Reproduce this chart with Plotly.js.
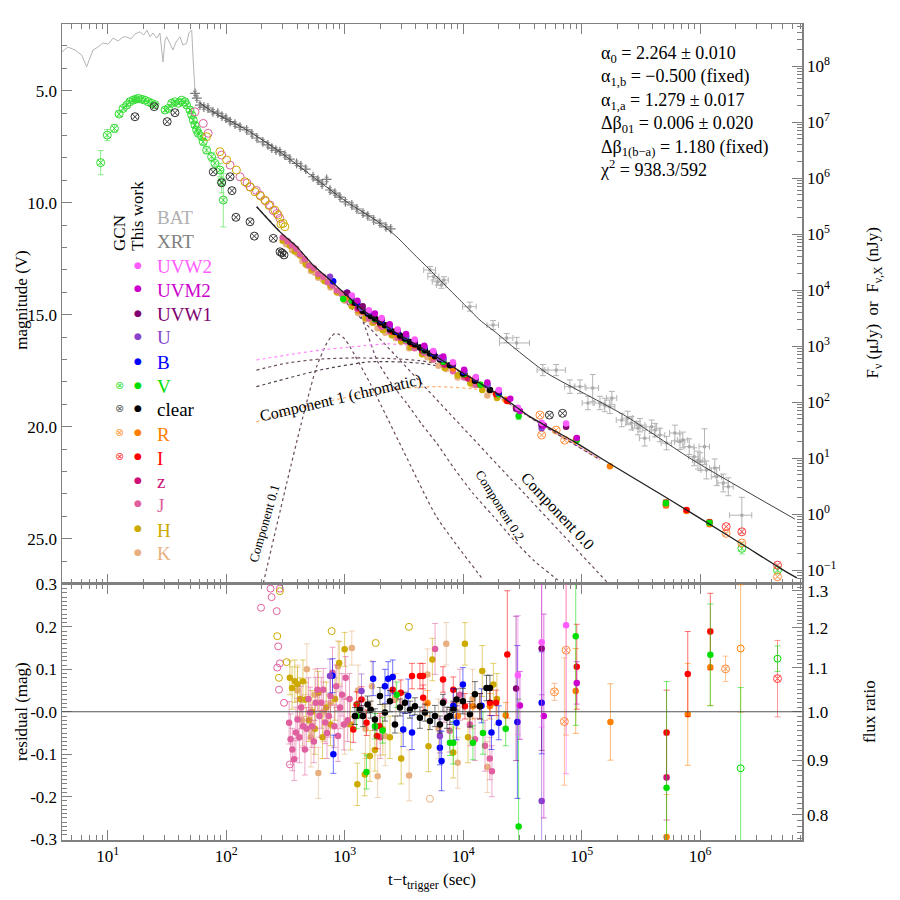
<!DOCTYPE html>
<html>
<head>
<meta charset="utf-8">
<script src="https://cdn.plot.ly/plotly-3.0.1.min.js"></script>
<style>body{margin:0;background:#fff}#chart{width:900px;height:900px}</style>
</head>
<body>
<div id="chart"></div>
<script>
// ---- BAT light curve (drawn on magnitude scale)
const batT = [4.1, 4.62, 5.3, 6.04, 6.65, 7.09, 7.52, 8.28, 9.12, 10.1, 11.1, 12.2, 13.5, 14.4, 15.7, 17.0, 18.7, 20.2, 21.4, 22.8, 24.1, 26.0, 27.6, 29.3, 30.5, 31.5, 34.1, 35.6, 37.7, 40.7, 43.2, 46.4, 48.5, 51.2, 52.7, 54.5];
const batM = [3.27, 3.05, 3.18, 3.41, 3.93, 3.54, 3.18, 3.05, 2.87, 2.92, 2.65, 2.78, 2.60, 2.59, 2.69, 2.47, 2.37, 2.51, 2.29, 2.59, 2.42, 2.65, 2.42, 3.71, 2.74, 2.59, 2.96, 3.18, 2.83, 2.59, 2.96, 2.88, 2.42, 2.29, 3.63, 4.97];

// ---- XRT
const xrtEarlyT = [54.6, 56.6, 60.1, 64.9, 70.2, 77.4, 85.0, 92.2, 99.6, 108, 118.8, 131, 149, 165, 182, 204, 225, 243, 263, 284, 313, 345, 393, 427, 470, 541, 596, 645, 705, 752, 828, 913, 1016, 1150, 1270, 1429, 1570, 1760, 1986, 2228, 2450];
const xrtEarlyM = [5.12, 5.33, 5.64, 5.73, 5.77, 5.94, 6.00, 6.13, 6.22, 6.38, 6.49, 6.62, 6.75, 6.93, 7.11, 7.28, 7.42, 7.56, 7.65, 7.72, 7.87, 8.05, 8.24, 8.36, 8.50, 8.84, 8.99, 9.17, 8.96, 9.43, 9.57, 9.75, 9.96, 10.10, 10.28, 10.46, 10.59, 10.77, 10.91, 11.08, 11.17];
const xrtLateT = [5247, 5635, 6090, 6555, 6890, 11400, 17900, 23300, 28300, 47100, 61000, 79700, 96800, 113000, 124000, 142800, 157000, 173000, 180000, 218000, 245000, 263000, 299000, 311000, 341000, 390000, 417000, 458000, 521000, 613000, 676000, 715000, 810000, 891000, 960000, 1.0e6, 1.09e6, 1.13e6, 1.33e6, 1.38e6, 1.57e6, 1.73e6, 2.25e6];
const xrtLateM = [13.0, 13.30, 13.53, 13.67, 13.45, 14.64, 15.46, 16.04, 16.26, 17.47, 17.47, 18.21, 18.21, 18.94, 18.27, 18.94, 19.03, 19.11, 18.72, 19.70, 19.61, 19.84, 20.06, 19.93, 20.51, 20.0, 20.15, 20.37, 20.73, 20.28, 20.67, 20.59, 20.89, 21.34, 21.49, 21.56, 20.89, 21.93, 21.84, 22.23, 22.51, 22.68, 23.95];
const xrtLateE = [0.15, 0.15, 0.15, 0.15, 0.15, 0.2, 0.2, 0.2, 0.25, 0.25, 0.25, 0.3, 0.3, 0.3, 0.6, 0.3, 0.3, 0.3, 0.3, 0.3, 0.3, 0.3, 0.3, 0.3, 0.35, 0.3, 0.3, 0.3, 0.3, 0.35, 0.35, 0.35, 0.35, 0.4, 0.4, 0.4, 0.8, 0.4, 0.4, 0.4, 0.4, 0.4, 0.8];
const xrtLateXE = [600, 600, 600, 600, 600, 1500, 2000, 3000, 8000, 5000, 12000, 8000, 10000, 12000, 15000, 15000, 16000, 18000, 18000, 22000, 25000, 27000, 30000, 31000, 34000, 40000, 42000, 46000, 52000, 60000, 68000, 72000, 80000, 90000, 96000, 100000, 110000, 113000, 130000, 138000, 157000, 173000, 480000];

// ---- model curves
const xrtModelT = [60, 77.4, 149, 283, 541, 1040, 1986, 2750, 3770, 5250, 7260, 9960, 13870, 19190, 26300, 50700, 134000, 240000, 871000, 6.3e6];
const xrtModelM = [5.55, 5.94, 6.75, 7.72, 8.84, 9.96, 10.91, 11.52, 12.25, 13.0, 13.75, 14.48, 15.24, 15.82, 16.43, 17.60, 18.81, 19.55, 21.49, 24.12];
const optModelT = [181, 283, 394, 541, 752, 1006, 1426, 2000, 2750, 4000, 5250, 7000, 9960, 14000, 19190, 27000, 36650, 54020, 90800, 172000, 521000, 1.2e6, 2.28e6, 4.72e6, 6.56e6];
const optModelM = [10.18, 11.29, 11.96, 12.78, 13.45, 14.06, 14.79, 15.32, 15.82, 16.33, 16.71, 17.11, 17.60, 18.07, 18.50, 19.05, 19.55, 20.06, 20.73, 21.64, 23.17, 24.35, 25.26, 26.31, 26.75];

const comp00T = [181, 166700];
const comp00M = [10.18, 26.98];
const comp01T = [206, 324, 445, 580, 705, 770, 828, 900, 1000, 1109, 1636, 3108, 5970, 14790];
const comp01M = [26.98, 22.53, 19.55, 17.32, 16.28, 15.98, 15.83, 15.88, 16.08, 16.43, 18.05, 21.04, 24.02, 26.84];
const comp02T = [600, 850, 1183, 1500, 1870, 2500, 3325, 4500, 5970, 8500, 12100, 18000, 26800, 40000, 62800, 67000];
const comp02M = [13.30, 13.85, 14.34, 15.6, 17.02, 18.1, 18.94, 19.9, 20.73, 21.9, 22.97, 24.0, 25.06, 26.0, 26.84, 26.98];
const c1PinkT = [180, 324, 619, 1183, 2250, 3600, 5250, 9960, 36650, 142800];
const c1PinkM = [17.02, 16.80, 16.58, 16.43, 16.30, 16.40, 16.78, 17.65, 19.57, 21.45];
const c1PurpT = [180, 324, 619, 1183, 2250, 4300, 8000, 14000, 36650, 142800];
const c1PurpM = [17.47, 17.16, 16.98, 16.93, 16.95, 17.05, 17.35, 18.10, 19.58, 21.47];
const c1DarkT = [180, 619, 1636, 4320, 9000, 14000, 36650, 142800];
const c1DarkM = [18.21, 17.47, 17.10, 17.16, 17.50, 18.10, 19.58, 21.47];
const c1OrT = [180, 619, 2250, 5970, 15500, 30150, 65600, 142800];
const c1OrM = [19.78, 18.95, 18.36, 18.21, 18.40, 19.32, 20.33, 21.47];

// ---- GCN photometry
const gcnVT = [8.73, 9.93, 11.4, 12.5, 13.5, 14.5, 15.4, 16.4, 17.2, 18.1, 19.4, 20.6, 22.0, 23.5, 25.0, 30.5, 32.5, 34.7, 37.0, 39.4, 42.1, 44.9, 46.4, 49.5, 51.2, 52.8, 54.5, 56.4, 58.2, 62.1, 64.1, 68.4, 75.4, 80.4, 88.6, 91.6, 94.6, 2.25e6, 4.5e6];
const gcnVM = [8.21, 6.98, 6.68, 6.04, 5.79, 5.64, 5.49, 5.42, 5.38, 5.34, 5.38, 5.42, 5.49, 5.56, 5.62, 5.86, 5.79, 5.56, 5.49, 5.56, 5.42, 5.49, 5.64, 5.86, 6.08, 6.31, 6.53, 6.75, 6.90, 7.05, 7.28, 7.65, 7.95, 8.24, 8.54, 9.06, 9.88, 25.43, 26.40];
const gcnVE = [0.54, 0.25, 0.18, 0.1, 0.08, 0.06, 0.06, 0.06, 0.06, 0.06, 0.06, 0.06, 0.06, 0.06, 0.06, 0.08, 0.06, 0.06, 0.06, 0.06, 0.06, 0.06, 0.06, 0.08, 0.08, 0.1, 0.1, 0.1, 0.12, 0.12, 0.12, 0.15, 0.2, 0.25, 0.3, 0.5, 1.2, 0.25, 0.15];
const gcnClearT = [17.0, 24.7, 31.8, 37.0, 77.8, 91.6, 108, 112, 121, 159, 173, 250, 285, 296, 308, 53500, 69000];
const gcnClearM = [6.16, 5.71, 6.38, 5.98, 8.62, 9.11, 8.84, 9.46, 10.65, 10.85, 11.49, 11.59, 12.19, 12.24, 12.33, 19.48, 19.40];
const gcnRT = [44500, 46000, 61000, 72000, 1.66e6, 2.25e6, 4.5e6];
const gcnRM = [19.48, 20.37, 20.15, 20.60, 24.76, 25.19, 26.70];
const gcnIT = [1.66e6, 2.25e6, 4.5e6];
const gcnIM = [24.46, 24.69, 26.18];

// ---- This work: early open circles (J, H)
const jOpenT = [54.6, 64.1, 70.5, 91.6, 108, 131, 150, 159, 180, 193, 215, 234, 250, 268, 284];
const jOpenM = [5.94, 6.46, 6.90, 7.87, 8.32, 8.84, 9.12, 9.29, 9.45, 9.66, 9.92, 10.10, 10.35, 10.48, 10.70];
const hOpenT = [68.4, 88.6, 101, 122, 144, 160, 175, 195, 212, 230, 258, 275, 290, 303, 313];
const hOpenM = [7.05, 7.72, 8.09, 8.54, 9.06, 9.30, 9.51, 9.70, 9.88, 10.12, 10.33, 10.55, 10.95, 10.92, 11.07];

// ---- This work: filled points (top panel)
const jT = [300, 330, 360, 390, 420, 460, 500, 550, 600, 660, 720, 790, 860, 950, 1050, 1150, 1280, 1420, 1600, 1800, 2050, 2400, 2800, 3300, 3900, 4700, 5600, 6800, 8200, 10200, 12800];
const jM = [11.55, 11.72, 11.90, 12.05, 12.30, 12.52, 12.80, 12.93, 13.18, 13.30, 13.55, 13.70, 13.92, 14.05, 14.33, 14.45, 14.74, 14.90, 15.17, 15.28, 15.55, 15.75, 16.02, 16.20, 16.50, 16.70, 17.00, 17.20, 17.52, 17.80, 18.12];
const hT = [300, 345, 380, 420, 470, 530, 600, 680, 760, 860, 1000, 1150, 1300, 1500, 1750, 2100, 2500, 3000, 3600, 4500, 5500, 7000, 9000, 11500, 14500, 19300];
const hM = [11.70, 11.92, 12.18, 12.35, 12.75, 12.98, 13.27, 13.50, 13.70, 14.00, 14.28, 14.62, 14.82, 15.14, 15.36, 15.68, 15.92, 16.20, 16.45, 16.76, 17.00, 17.38, 17.70, 18.06, 18.36, 18.72];
const kT = [320, 360, 400, 440, 480, 520, 560, 600, 660, 760, 880, 1000, 1150, 1300, 1500, 1700, 1900, 2200, 2700, 3500, 5000, 6200, 7200, 9000, 12000, 16000];
const kM = [11.85, 12.12, 12.28, 12.60, 12.80, 13.05, 13.12, 13.35, 13.45, 13.78, 14.02, 14.38, 14.60, 14.92, 15.20, 15.35, 15.60, 15.80, 16.05, 16.50, 16.90, 17.28, 17.42, 17.80, 18.12, 18.60];
const uvw2T = [1150, 1600, 2050, 2800, 3900, 5600, 8200, 12800, 20000, 29000, 46000, 74000];
const uvw2M = [14.14, 14.80, 15.15, 15.66, 16.10, 16.62, 17.12, 17.78, 18.36, 19.15, 19.82, 19.85];
const uvm2T = [1280, 1800, 2400, 3300, 4700, 6800, 10200, 16000, 25000, 30150, 48000, 91000];
const uvm2M = [14.38, 14.95, 15.42, 15.86, 16.38, 16.86, 17.46, 18.02, 18.75, 19.30, 19.95, 20.50];
const uvw1T = [1050, 1420, 2050, 2800, 3900, 5600, 8200, 12800, 20000, 28000, 46000, 74000];
const uvw1M = [14.02, 14.62, 15.20, 15.70, 16.18, 16.66, 17.18, 17.82, 18.40, 19.20, 19.92, 20.00];
const uT = [752, 1150, 1388, 1600, 2400, 3300, 4700, 6372, 6800, 10200, 16000, 46000];
const uM = [13.30, 14.20, 14.70, 14.86, 15.50, 15.96, 16.44, 16.92, 16.98, 17.50, 18.12, 20.07];
const bT = [800, 1050, 1280, 1600, 2050, 2400, 2800, 3300, 3900, 4700, 5600, 6800, 8200, 10200, 12800, 16000, 20000, 28700, 46000];
const bM = [13.50, 14.02, 14.45, 14.88, 15.26, 15.52, 15.76, 15.98, 16.20, 16.45, 16.72, 16.98, 17.22, 17.56, 17.85, 18.14, 18.48, 19.18, 19.90];
const vT = [974, 1150, 1420, 1800, 2400, 3300, 4700, 6800, 10200, 14000, 20000, 29400, 91000, 515000, 1.2e6];
const vM = [14.30, 14.38, 14.80, 15.20, 15.60, 16.10, 16.60, 17.10, 17.66, 18.12, 18.55, 19.52, 20.59, 23.41, 24.29];
const vE = [0.02, 0.02, 0.02, 0.02, 0.02, 0.02, 0.02, 0.02, 0.02, 0.02, 0.02, 0.15, 0.08, 0.12, 0.08];
const clearT = [1222, 1346, 1429, 1562, 1660, 1803, 1986, 2189, 2412, 2658, 2929, 3228, 3557, 3920, 4320, 4761, 5247, 5782, 6372, 7739, 9960, 12580, 16830];
const clearM = [14.47, 14.66, 14.83, 14.95, 15.06, 15.17, 15.35, 15.47, 15.66, 15.77, 15.93, 16.06, 16.22, 16.33, 16.46, 16.58, 16.73, 16.85, 17.00, 17.26, 17.62, 17.95, 18.36];
const rT = [1050, 1420, 2050, 2800, 3900, 5600, 8200, 12100, 16830, 22880, 89200, 173400, 515000, 768000, 1.2e6];
const rM = [14.22, 14.85, 15.40, 15.90, 16.36, 16.86, 17.40, 17.92, 18.36, 18.80, 20.62, 21.76, 23.48, 23.76, 24.35];
const rE = [0.02, 0.02, 0.02, 0.02, 0.02, 0.02, 0.02, 0.02, 0.02, 0.02, 0.06, 0.06, 0.15, 0.08, 0.08];
const iT = [1183, 1388, 1870, 2545, 3705, 4580, 6760, 10360, 13860, 19000, 23600, 91000, 515000, 768000, 1.2e6];
const iM = [14.45, 14.80, 15.25, 15.75, 16.30, 16.54, 17.10, 17.70, 18.12, 18.55, 18.85, 20.52, 23.38, 23.72, 24.25];
const iE = [0.02, 0.02, 0.02, 0.02, 0.02, 0.02, 0.02, 0.02, 0.02, 0.02, 0.1, 0.08, 0.1, 0.08, 0.08];
const zT = [1300, 2000, 3000, 4500, 7000, 11000, 515000];
const zM = [14.70, 15.42, 16.02, 16.60, 17.22, 17.85, 23.50];

// ---- residuals (bottom panel)
const resJT = [340, 350, 362, 375, 388, 400, 415, 430, 445, 462, 478, 495, 512, 530, 550, 570, 590, 612, 635, 660, 685, 710, 735, 760, 790, 820, 850, 880, 915, 950, 985, 1020, 1060, 1100, 2000, 5800, 6900, 7700, 9400, 11400, 12600, 15300, 16800, 17500];
const resJR = [-0.026, -0.065, -0.089, -0.112, -0.049, -0.018, -0.060, 0.010, -0.034, -0.089, -0.040, 0.030, -0.002, -0.034, -0.070, 0.021, 0.052, -0.010, 0.021, 0.052, -0.025, -0.050, -0.010, 0.037, 0.092, -0.034, 0.060, -0.057, 0.010, 0.040, -0.030, 0.080, -0.020, 0.030, -0.060, 0.148, 0.025, -0.045, 0.040, -0.030, -0.065, -0.080, -0.110, -0.140];
const resJE = [0.05, 0.06, 0.05, 0.05, 0.06, 0.05, 0.06, 0.05, 0.05, 0.06, 0.05, 0.05, 0.06, 0.05, 0.05, 0.06, 0.05, 0.05, 0.06, 0.05, 0.05, 0.06, 0.05, 0.05, 0.06, 0.05, 0.05, 0.06, 0.05, 0.05, 0.06, 0.05, 0.05, 0.06, 0.05, 0.06, 0.05, 0.05, 0.06, 0.05, 0.05, 0.06, 0.05, 0.06];
const resHT = [345, 360, 380, 400, 420, 445, 470, 500, 530, 560, 600, 650, 700, 760, 830, 900, 1000, 1120, 1280, 1480, 1636, 1800, 2100, 2412, 3000, 5500, 5100, 8260, 10360, 11000, 14500, 18000, 19300];
const resHR = [0.08, 0.056, 0.072, 0.065, 0.03, 0.072, 0.029, -0.02, 0.0, -0.04, 0.045, -0.06, 0.01, -0.03, 0.03, 0.115, 0.147, -0.03, -0.171, -0.148, -0.104, -0.09, -0.042, -0.06, -0.11, 0.123, -0.081, -0.096, 0.16, -0.06, 0.096, 0.064, 0.03];
const resHE = [0.04, 0.05, 0.05, 0.04, 0.05, 0.05, 0.04, 0.05, 0.05, 0.06, 0.05, 0.05, 0.06, 0.05, 0.05, 0.05, 0.04, 0.06, 0.05, 0.05, 0.06, 0.05, 0.06, 0.05, 0.06, 0.05, 0.06, 0.06, 0.05, 0.06, 0.06, 0.05, 0.06];
const resKT = [400, 440, 480, 520, 560, 600, 660, 760, 880, 1000, 1150, 1300, 1500, 1700, 1900, 2200, 2700, 3500, 5000, 6200, 7200, 9000, 12000, 16000];
const resKR = [0.05, -0.02, 0.1, -0.06, 0.04, -0.144, 0.0, 0.02, 0.107, -0.03, 0.15, 0.05, -0.04, 0.06, -0.152, -0.057, 0.03, -0.15, 0.088, -0.04, 0.16, -0.12, 0.03, -0.13];
const resKE = [0.06, 0.06, 0.06, 0.07, 0.06, 0.06, 0.07, 0.06, 0.06, 0.07, 0.04, 0.06, 0.07, 0.06, 0.05, 0.07, 0.06, 0.06, 0.06, 0.07, 0.05, 0.06, 0.07, 0.06];
const resJOpenT = [197, 237, 242, 267, 284, 275, 284, 270, 279, 308, 345];
const resJOpenR = [0.245, 0.29, 0.27, 0.237, 0.29, 0.154, 0.114, 0.104, 0.052, 0.021, -0.124];
const resHOpenT = [284, 270, 279, 324, 777, 1828, 3490];
const resHOpenR = [0.284, 0.178, 0.08, 0.117, 0.19, 0.162, 0.2];
const resKOpenT = [5247];
const resKOpenR = [-0.205];
const resClearT = [1222, 1346, 1429, 1562, 1660, 1803, 1986, 2189, 2412, 2658, 2929, 3228, 3557, 3920, 4320, 4761, 5247, 5782, 6372, 6757, 7300, 7739, 8260, 8805, 9960, 11410, 12580, 13860, 15750, 16830];
const resClearR = [-0.01, 0.005, -0.01, 0.017, 0.005, -0.018, 0.037, -0.002, 0.025, -0.03, 0.01, 0.021, 0.005, 0.013, -0.014, -0.002, -0.022, -0.01, -0.03, 0.021, -0.014, -0.01, 0.005, 0.029, 0.025, -0.006, 0.041, 0.013, 0.056, 0.056];
const resClearE = [0.02, 0.02, 0.025, 0.02, 0.02, 0.025, 0.02, 0.02, 0.025, 0.02, 0.02, 0.025, 0.02, 0.02, 0.025, 0.02, 0.02, 0.025, 0.02, 0.02, 0.025, 0.02, 0.02, 0.025, 0.03, 0.03, 0.03, 0.03, 0.03, 0.03];
const resIT = [1183, 1262, 1388, 1530, 1870, 1986, 2545, 2980, 3705, 4320, 4580, 4600, 6760, 8260, 10360, 13860, 16830, 19000, 23600, 91000, 521000, 787000, 1.22e6];
const resIR = [-0.042, 0.017, 0.029, -0.026, -0.057, -0.034, 0.052, 0.045, 0.084, 0.084, 0.084, 0.033, 0.076, 0.052, 0.013, 0.013, 0.021, 0.021, 0.135, 0.106, -0.049, 0.089, 0.189];
const resIE = [0.03, 0.03, 0.03, 0.03, 0.03, 0.03, 0.03, 0.03, 0.03, 0.03, 0.03, 0.03, 0.03, 0.03, 0.03, 0.03, 0.03, 0.03, 0.15, 0.1, 0.1, 0.1, 0.09];
const resBT = [790, 803, 1740, 2189, 2330, 2545, 3120, 3440, 3705, 6372, 6580, 8260, 8805, 9960, 14300, 17350, 20000, 28700, 46000];
const resBR = [0.085, -0.1, 0.078, 0.06, 0.078, 0.082, -0.042, 0.037, -0.049, -0.085, -0.116, 0.014, -0.026, 0.064, 0.014, -0.049, -0.026, -0.024, 0.021];
const resBE = [0.04, 0.045, 0.04, 0.04, 0.04, 0.04, 0.04, 0.04, 0.04, 0.04, 0.07, 0.04, 0.04, 0.04, 0.04, 0.04, 0.04, 0.18, 0.12];
const resVT = [1262, 1530, 1803, 2090, 2750, 7739, 8260, 12100, 14700, 22880, 29400, 89200, 521000, 1.22e6];
const resVR = [-0.01, -0.142, -0.034, -0.044, 0.04, -0.073, -0.073, -0.073, -0.05, -0.04, -0.27, 0.178, -0.179, 0.134];
const resVE = [0.03, 0.04, 0.03, 0.03, 0.03, 0.03, 0.05, 0.04, 0.05, 0.04, 0.3, 0.21, 0.25, 0.12];
const resVOpenT = [2.2e6, 4.5e6];
const resVOpenR = [-0.133, 0.125];
const resVOpenE = [0.19, 0.03];
const resRT = [5000, 9000, 12100, 16830, 22880, 89200, 175000, 521000, 787000, 1.22e6];
const resRR = [0.02, -0.01, 0.013, 0.013, -0.008, 0.049, -0.024, -0.295, -0.006, 0.105];
const resRE = [0.03, 0.03, 0.03, 0.03, 0.03, 0.1, 0.09, 0.1, 0.12, 0.09];
const resROpenT = [2.2e6];
const resROpenR = [0.149];
const resROpenE = [0.15];
const resGcnRT = [59000, 71500, 74000, 1.64e6];
const resGcnRR = [0.047, -0.023, 0.145, 0.101];
const resGcnRE = [0.02, 0.15, 0.2, 0.03];
const resGcnIT = [4.5e6];
const resGcnIR = [0.078];
const resGcnIE = [0.09];
const resUvw2T = [29000, 46000, 74000];
const resUvw2R = [0.086, 0.164, 0.204];
const resUvw2E = [0.14, 0.2, 0.35];
const resUvm2T = [30150, 48000, 91000];
const resUvm2R = [0.015, -0.01, 0.068];
const resUvm2E = [0.08, 0.24, 0.05];
const resUvw1T = [28000, 46000];
const resUvw1R = [0.055, 0.149];
const resUvw1E = [0.17, 0.24];
const resUT = [752, 1388, 6372, 46000];
const resUR = [0.084, 0.049, -0.057, -0.21];
const resUE = [0.04, 0.04, 0.04, 0.25];
const resZT = [521000];
const resZR = [-0.155];
const resZE = [0.1];

// legend entries
const bands = ['UVW2', 'UVM2', 'UVW1', 'U', 'B', 'V', 'clear', 'R', 'I', 'z', 'J', 'H', 'K'];
const bandColors = ['#ff5cff', '#cc00cc', '#800070', '#8844cc', '#0000ff', '#00dd00', '#000000', '#ff8000', '#ff0000', '#cc1177', '#e0609f', '#ccaa00', '#e8b080'];
const gcnBands = ['V', 'clear', 'R', 'I'];
const col = {};
bands.forEach((b, i) => { col[b] = bandColors[i]; });

const FONT = 'Liberation Serif';
const AX = '#808080';

function fade(hex, a) {
    const n = parseInt(hex.slice(1), 16);
    return 'rgba(' + (n >> 16) + ',' + ((n >> 8) & 255) + ',' + (n & 255) + ',' + a + ')';
}

function pts(t, y, color, opts) {
    opts = opts || {};
    const bottom = opts.bottom;
    const tr = {
        type: 'scatter', mode: 'markers', x: t, y: y,
        xaxis: bottom ? 'x2' : 'x', yaxis: bottom ? 'y3' : 'y',
        marker: {
            color: opts.open ? 'rgba(0,0,0,0)' : color,
            size: opts.size || 6.5,
            symbol: opts.symbol || 'circle',
            line: {color: color, width: opts.open ? 1 : 0}
        },
        hoverinfo: 'skip'
    };
    if (opts.symbol) tr.marker.color = color;
    if (opts.err) {
        tr.error_y = {type: 'data', array: opts.err, color: fade(color, 0.55), thickness: 1, width: 3};
    }
    return tr;
}

function curve(t, m, color, dash, width) {
    return {type: 'scatter', mode: 'lines', x: t, y: m, xaxis: 'x', yaxis: 'y',
        line: {color: color, dash: dash || 'solid', width: width || 1, shape: 'spline', smoothing: 0.6},
        hoverinfo: 'skip'};
}

const gcnSym = 'circle-x-open';
const traces = [
    // BAT
    {type: 'scatter', mode: 'lines', x: batT, y: batM, xaxis: 'x', yaxis: 'y', line: {color: '#b4b4b4', width: 1}, hoverinfo: 'skip'},
    // XRT
    {type: 'scatter', mode: 'markers', x: xrtEarlyT, y: xrtEarlyM, xaxis: 'x', yaxis: 'y',
        marker: {symbol: 'cross-thin-open', size: 7, color: '#7a7a7a', line: {color: '#7a7a7a', width: 1.2}},
        error_y: {type: 'constant', value: 0.1, color: '#8a8a8a', thickness: 1, width: 2},
        hoverinfo: 'skip'},
    {type: 'scatter', mode: 'markers', x: xrtLateT, y: xrtLateM, xaxis: 'x', yaxis: 'y',
        marker: {symbol: 'square', size: 3, color: '#a8a8a8'},
        error_y: {type: 'data', array: xrtLateE, color: '#b4b4b4', thickness: 1, width: 3},
        error_x: {type: 'data', array: xrtLateXE, color: '#b4b4b4', thickness: 1, width: 3},
        hoverinfo: 'skip'},
    curve(xrtModelT, xrtModelM, '#404040', 'solid', 1),
    // components
    curve(comp00T, comp00M, '#6a4a5e', 'dot', 1.2),
    curve(comp01T, comp01M, '#6a4a5e', 'dot', 1.2),
    curve(comp02T, comp02M, '#6a4a5e', 'dot', 1.2),
    curve(c1PinkT, c1PinkM, '#ff88ff', 'dot', 1.2),
    curve(c1PurpT, c1PurpM, '#6a4a5e', 'dot', 1.2),
    curve(c1DarkT, c1DarkM, '#504050', 'dot', 1.2),
    curve(c1OrT, c1OrM, '#ffb070', 'dot', 1.2),
    // GCN
    pts(gcnVT, gcnVM, '#33dd33', {symbol: gcnSym, size: 8, err: gcnVE}),
    pts(gcnClearT, gcnClearM, '#333333', {symbol: gcnSym, size: 8}),
    pts(gcnRT, gcnRM, '#ff9040', {symbol: gcnSym, size: 8}),
    pts(gcnIT, gcnIM, '#ff4040', {symbol: gcnSym, size: 8}),
    // this work
    pts(jOpenT, jOpenM, col.J, {open: true, size: 8}),
    pts(hOpenT, hOpenM, col.H, {open: true, size: 8}),
    pts(kT, kM, col.K),
    pts(hT, hM, col.H),
    pts(jT, jM, col.J),
    pts(zT, zM, col.z),
    pts(rT, rM, col.R, {err: rE}),
    pts(iT, iM, col.I, {err: iE}),
    pts(vT, vM, col.V, {err: vE}),
    pts(clearT, clearM, col.clear),
    pts(bT, bM, col.B),
    pts(uT, uM, col.U),
    pts(uvw1T, uvw1M, col.UVW1),
    pts(uvm2T, uvm2M, col.UVM2),
    pts(uvw2T, uvw2M, col.UVW2),
    curve(optModelT, optModelM, '#202020', 'solid', 1.3),
    // residuals
    pts(resJOpenT, resJOpenR, col.J, {bottom: true, open: true, size: 7}),
    pts(resHOpenT, resHOpenR, col.H, {bottom: true, open: true, size: 7}),
    pts(resKOpenT, resKOpenR, col.K, {bottom: true, open: true, size: 7}),
    pts(resKT, resKR, col.K, {bottom: true, err: resKE}),
    pts(resHT, resHR, col.H, {bottom: true, err: resHE}),
    pts(resJT, resJR, col.J, {bottom: true, err: resJE}),
    pts(resZT, resZR, col.z, {bottom: true, err: resZE}),
    pts(resRT, resRR, col.R, {bottom: true, err: resRE}),
    pts(resROpenT, resROpenR, col.R, {bottom: true, open: true, size: 7, err: resROpenE}),
    pts(resGcnRT, resGcnRR, '#ff9040', {bottom: true, symbol: gcnSym, size: 8, err: resGcnRE}),
    pts(resGcnIT, resGcnIR, '#ff4040', {bottom: true, symbol: gcnSym, size: 8, err: resGcnIE}),
    pts(resIT, resIR, col.I, {bottom: true, err: resIE}),
    pts(resVT, resVR, col.V, {bottom: true, err: resVE}),
    pts(resVOpenT, resVOpenR, col.V, {bottom: true, open: true, size: 7, err: resVOpenE}),
    pts(resBT, resBR, col.B, {bottom: true, err: resBE}),
    pts(resUT, resUR, col.U, {bottom: true, err: resUE}),
    pts(resUvw1T, resUvw1R, col.UVW1, {bottom: true, err: resUvw1E}),
    pts(resUvm2T, resUvm2R, col.UVM2, {bottom: true, err: resUvm2E}),
    pts(resUvw2T, resUvw2R, col.UVW2, {bottom: true, err: resUvw2E}),
    pts(resClearT, resClearR, col.clear, {bottom: true, err: resClearE}),
    // anchors for the right-hand axes
    {type: 'scatter', x: [], y: [], xaxis: 'x', yaxis: 'y2'},
    {type: 'scatter', x: [], y: [], xaxis: 'x2', yaxis: 'y4'}
];

// tick helpers
function logMinor(a, b) {
    const v = [];
    for (let e = a; e <= b; e++) for (let k = 2; k <= 9; k++) v.push(k * Math.pow(10, e));
    return v;
}
const ratioMinor = [];
for (let k = 76; k <= 132; k++) ratioMinor.push(k / 100);

const base = {
    showline: true, linecolor: AX, linewidth: 1.5, ticks: 'inside', tickcolor: AX,
    ticklen: 10, tickwidth: 1, showgrid: false, zeroline: false,
    tickfont: {family: FONT, size: 17, color: '#000'}
};
const xMinor = {ticks: 'inside', ticklen: 5, tickcolor: AX, tickmode: 'array', tickvals: logMinor(0, 6), showgrid: false};
const xTickVals = [10, 100, 1e3, 1e4, 1e5, 1e6];
const xTickText = ['10<sup>1</sup>', '10<sup>2</sup>', '10<sup>3</sup>', '10<sup>4</sup>', '10<sup>5</sup>', '10<sup>6</sup>'];
const TOP = [0.3143, 1];
const BOT = [0, 0.3143];

const layout = {
    width: 900, height: 900,
    margin: {l: 62, r: 98, t: 24, b: 60},
    paper_bgcolor: '#fff', plot_bgcolor: '#fff',
    showlegend: false,
    font: {family: FONT, size: 17, color: '#000'},
    xaxis: Object.assign({}, base, {type: 'log', range: [0.6147, 6.86], domain: [0, 1], anchor: 'y',
        mirror: 'ticks', showticklabels: false, tickmode: 'array', tickvals: xTickVals, minor: xMinor}),
    xaxis2: Object.assign({}, base, {type: 'log', range: [0.6147, 6.86], domain: [0, 1], anchor: 'y3',
        matches: 'x', mirror: 'ticks', tickmode: 'array', tickvals: xTickVals, ticktext: xTickText, minor: xMinor}),
    yaxis: Object.assign({}, base, {domain: TOP, anchor: 'x', range: [27.0, 2.02], tickmode: 'array',
        tickvals: [5, 10, 15, 20, 25], ticktext: ['5.0', '10.0', '15.0', '20.0', '25.0'],
        minor: {ticks: 'inside', ticklen: 5, tickcolor: AX, dtick: 1, showgrid: false}}),
    yaxis2: Object.assign({}, base, {domain: TOP, anchor: 'x', overlaying: 'y', side: 'right', type: 'log',
        range: [-1.24, 8.752], tickmode: 'array',
        tickvals: [0.1, 1, 10, 100, 1e3, 1e4, 1e5, 1e6, 1e7, 1e8],
        ticktext: ['10<sup>\u22121</sup>', '10<sup>0</sup>', '10<sup>1</sup>', '10<sup>2</sup>', '10<sup>3</sup>', '10<sup>4</sup>', '10<sup>5</sup>', '10<sup>6</sup>', '10<sup>7</sup>', '10<sup>8</sup>'],
        minor: {ticks: 'inside', ticklen: 5, tickcolor: AX, tickmode: 'array', tickvals: logMinor(-2, 8), showgrid: false}}),
    yaxis3: Object.assign({}, base, {domain: BOT, anchor: 'x2', range: [-0.302, 0.302], tickmode: 'array',
        tickvals: [-0.3, -0.2, -0.1, 0, 0.1, 0.2, 0.3],
        ticktext: ['-0.3', '-0.2', '-0.1', '-0.0', '0.1', '0.2', '0.3'],
        minor: {ticks: 'inside', ticklen: 5, tickcolor: AX, dtick: 0.01, showgrid: false}}),
    yaxis4: Object.assign({}, base, {domain: BOT, anchor: 'x2', overlaying: 'y3', side: 'right', type: 'log',
        range: [-0.1208, 0.1208], tickmode: 'array',
        tickvals: [0.8, 0.9, 1.0, 1.1, 1.2, 1.3], ticktext: ['0.8', '0.9', '1.0', '1.1', '1.2', '1.3'],
        minor: {ticks: 'inside', ticklen: 5, tickcolor: AX, tickmode: 'array', tickvals: ratioMinor, showgrid: false}}),
    shapes: [
        {type: 'line', xref: 'paper', x0: 0, x1: 1, yref: 'y3', y0: 0, y1: 0, line: {color: '#555', width: 1}}
    ],
    annotations: []
};

const ann = layout.annotations;
function note(text, x, y, o) {
    ann.push(Object.assign({text: text, x: x, y: y, xref: 'paper', yref: 'paper', showarrow: false,
        xanchor: 'center', yanchor: 'middle',
        font: {family: FONT, size: 17, color: '#000'}}, o || {}));
}

// fit results
note('\u03b1<sub>0</sub> = 2.264 \u00b1 0.010<br>\u03b1<sub>1,b</sub> = \u22120.500 (fixed)<br>\u03b1<sub>1,a</sub> = 1.279 \u00b1 0.017<br>\u0394\u03b2<sub>01</sub> = 0.006 \u00b1 0.020<br>\u0394\u03b2<sub>1(b\u2212a)</sub> = 1.180 (fixed)<br>\u03c7<sup>2</sup> = 938.3/592',
    0.7243, 0.979, {xanchor: 'left', yanchor: 'top', align: 'left', font: {family: FONT, size: 18, color: '#000'}});

// axis titles
note('magnitude (V)', -0.054, 0.662, {textangle: -90});
note('residual (mag)', -0.054, 0.157, {textangle: -90});
note('F<sub>\u03bd</sub> (\u03bcJy)\u00a0\u00a0or\u00a0\u00a0F<sub>\u03bd,X</sub> (nJy)', 1.098, 0.658, {textangle: -90});
note('flux ratio', 1.092, 0.157, {textangle: -90});
note('t\u2212t<sub>trigger</sub> (sec)', 0.5, -0.05);

// component labels
note('Component 1 (chromatic)', 0.377, 0.542, {textangle: -13, font: {family: FONT, size: 16, color: '#000'}});
note('Component 0.1', 0.273, 0.388, {textangle: -74, font: {family: FONT, size: 13, color: '#000'}});
note('Component 0.2', 0.592, 0.41, {textangle: 58, font: {family: FONT, size: 13, color: '#000'}});
note('Component 0.0', 0.669, 0.403, {textangle: 47, font: {family: FONT, size: 16, color: '#000'}});

// legend
const LS = 19;
note('GCN', 0.0784, 0.744, {textangle: -90});
note('This work', 0.1027, 0.765, {textangle: -90});
note('BAT', 0.1257, 0.7623, {xanchor: 'left', font: {family: FONT, size: LS, color: '#b0b0b0'}});
note('XRT', 0.1257, 0.7332, {xanchor: 'left', font: {family: FONT, size: LS, color: '#808080'}});
const rowY = [0.7026, 0.6740, 0.6434, 0.6152, 0.5849, 0.5555, 0.5270, 0.4975, 0.4681, 0.4391, 0.4105, 0.3799, 0.3505];
bands.forEach((b, i) => {
    note(b, 0.1257, rowY[i], {xanchor: 'left', font: {family: FONT, size: LS, color: bandColors[i]}});
    note('\u25cf', 0.1023, rowY[i] + 0.002, {font: {family: 'DejaVu Sans', size: 9, color: bandColors[i]}});
    if (gcnBands.indexOf(b) >= 0) {
        note('\u2297', 0.0774, rowY[i] + 0.002, {font: {family: 'DejaVu Sans', size: 11, color: fade(bandColors[i] === '#000000' ? '#333333' : bandColors[i], 0.8)}});
    }
});

Plotly.newPlot('chart', traces, layout, {staticPlot: true});
</script>
</body>
</html>
